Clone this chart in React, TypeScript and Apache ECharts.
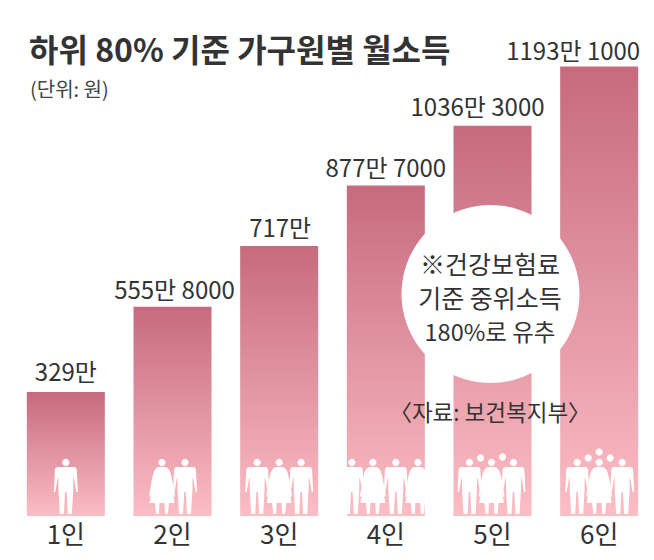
import React, { useEffect, useRef } from "react";
import * as echarts from "echarts";

const categories = ["1인", "2인", "3인", "4인", "5인", "6인"];
const incomes = [3290000, 5558000, 7170000, 8777000, 10363000, 11931000];
const incomeLabels = ["329만", "555만 8000", "717만", "877만 7000", "1036만 3000", "1193만 1000"];
const labelShifts = [[0, -3], [2, 1], [1, 0], [0, 0], [-15, -1], [-26, 2]];
const titleText = "하위 80% 기준 가구원별 월소득";
const unitText = "(단위: 원)";
const noteLines = ["※건강보험료", "기준 중위소득", "180%로 유추"];
const sourceText = "〈자료: 보건복지부〉";

const FONT = '"Liberation Sans Narrow", "Noto Sans CJK KR", sans-serif';
const KR = '"Noto Sans CJK KR", sans-serif';
const MAN =
  "M4 8 L20 8 Q23 8 23 12 L24 33 L22.5 33 L20 19 L19.5 19 L19.5 30 L18 55 L14 55 L12.7 33 L11.3 33 L10 55 L6 55 L4.5 30 L4.5 19 L4 19 L1.5 33 L0 33 L1 12 Q1 8 4 8 Z";
const WOMAN =
  "M9 8 L17 8 Q21 9 23 20 L26 37 L24.8 38 L23.5 33 L25.5 44 L20 44 L19 55 L16 55 L15.5 44 L10.5 44 L10 55 L7 55 L6 44 L0.5 44 L2.5 33 L1.2 38 L0 37 L3 20 Q5 9 9 8 Z";

// figure kind and horizontal offset from the bar centre, per household size
const figures: [string, number][][] = [
  [["m", 0]],
  [["w", -10.5], ["m", 12.5]],
  [["m", -22], ["w", 0], ["m", 22]],
  [["m", -34], ["w", -13], ["m", 10], ["w", 32]],
  [["m", -23], ["w", -1], ["m", 21]],
  [["m", -22], ["w", 0], ["m", 23]],
];
const children: [number, number][][] = [
  [], [], [], [],
  [[-12, 58], [10, 59]],
  [[-11, 58], [0, 64], [11, 58]],
];

function renderPeople(_: any, api: any) {
  const i = api.value(0);
  const [cx, by] = api.coord([i, 0]);
  const white = { fill: "#ffffff" };
  const els: any[] = [];
  figures[i].forEach(([kind, dx]) => {
    const w = kind === "m" ? 24 : 26;
    const x = cx + dx - w / 2;
    const y = by - 57;
    els.push({
      type: "path",
      shape: { pathData: kind === "m" ? MAN : WOMAN, x, y: y + 8, width: w, height: 47 },
      style: white,
    });
    els.push({ type: "circle", shape: { cx: cx + dx, cy: y + 3.5, r: 3.6 }, style: white });
  });
  children[i].forEach(([dx, up]) => {
    els.push({ type: "circle", shape: { cx: cx + dx, cy: by - up, r: 3.6 }, style: white });
  });
  return { type: "group", children: els };
}

export default function App() {
  const ref = useRef<HTMLDivElement>(null);
  useEffect(() => {
    const chart = echarts.init(ref.current!, null, { renderer: "svg" });
    chart.setOption({
      animation: false,
      backgroundColor: "#ffffff",
      textStyle: { fontFamily: FONT },
      title: [
        { text: titleText, left: 29, top: 32, padding: 0, textStyle: { fontFamily: KR, fontSize: 32, fontWeight: "bold", color: "#333333" } },
        { text: unitText, left: 30, top: 78, padding: 0, textStyle: { fontFamily: KR, fontSize: 20, fontWeight: "normal", color: "#444444" } },
      ],
      grid: { left: 12.5, right: 1.5, top: 64, bottom: 44 },
      xAxis: {
        type: "category",
        data: categories,
        axisLine: { show: false },
        axisTick: { show: false },
        axisLabel: { fontSize: 26, color: "#333333", margin: 3, fontFamily: FONT },
      },
      yAxis: { type: "value", min: 0, max: 12000000, show: false, splitLine: { show: false } },
      series: [
        {
          type: "bar",
          barWidth: 78,
          z: 2,
          data: incomes.map((v, i) => ({
            value: v,
            label: {
              show: true,
              position: "top",
              distance: 7,
              offset: labelShifts[i],
              formatter: incomeLabels[i],
              fontSize: 24,
              color: "#333333",
              fontFamily: FONT,
            },
          })),
          itemStyle: {
            color: new echarts.graphic.LinearGradient(0, 0, 0, 1, [
              { offset: 0, color: "#c76a7e" },
              { offset: 1, color: "#fcbdc4" },
            ]),
          },
        },
        {
          type: "custom",
          renderItem: renderPeople,
          data: categories.map((_, i) => [i]),
          encode: { x: 0 },
          clip: false,
          z: 3,
          silent: true,
        },
      ],
      graphic: [
        { type: "circle", z: 10, shape: { cx: 490.5, cy: 294, r: 89 }, style: { fill: "#ffffff" } },
        ...noteLines.map((t, i) => ({
          type: "text",
          z: 11,
          x: 490,
          y: 263 + i * 34,
          style: { text: t, fontSize: i === 2 ? 23.5 : 25, fontFamily: FONT, fill: "#333333", align: "center", verticalAlign: "middle" },
        })),
        {
          type: "text",
          z: 11,
          x: 490,
          y: 411,
          style: { text: sourceText, fontSize: 22.5, fontFamily: FONT, fill: "#333333", align: "center", verticalAlign: "middle" },
        },
      ],
    });
    return () => chart.dispose();
  }, []);
  return <div ref={ref} style={{ position: "absolute", left: 0, top: 0, width: 654, height: 560 }} />;
}
